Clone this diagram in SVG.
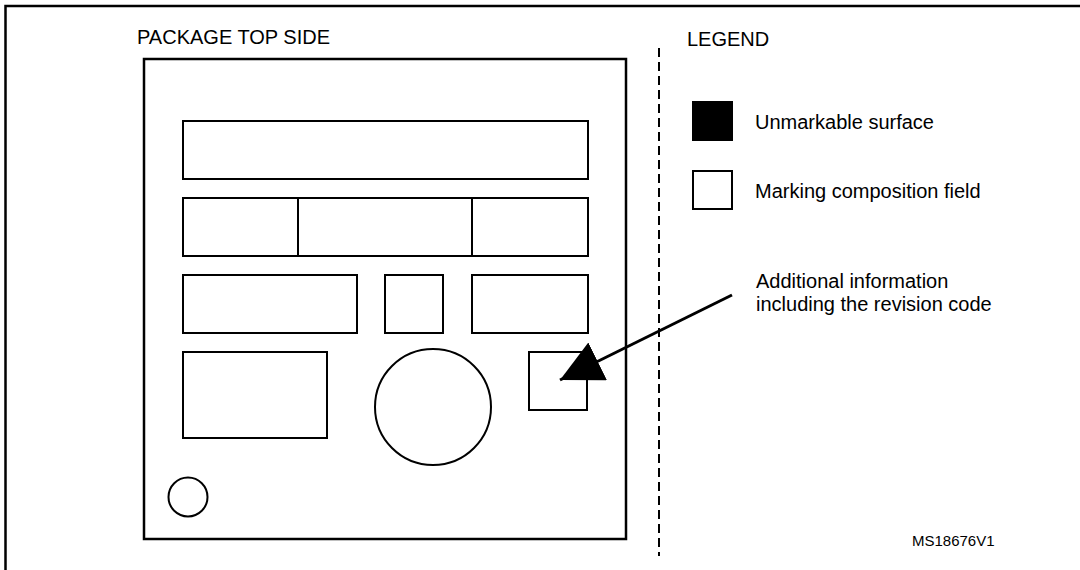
<svg xmlns="http://www.w3.org/2000/svg" width="1080" height="570" viewBox="0 0 1080 570">
<style>
.f{fill:none;stroke:#000;stroke-width:2}
.t{font-family:"Liberation Sans",Arial,sans-serif;font-size:20px;fill:#000}
</style>
<defs>
<marker id="ah" markerWidth="44" markerHeight="44" refX="42" refY="21" orient="auto" markerUnits="userSpaceOnUse">
<path d="M0,0 L42,21 L0,42 Z" fill="#000"/>
</marker>
</defs>
<rect width="1080" height="570" fill="#fff"/>
<g id="frame">
<path d="M5.5,570 V6 H1080" fill="none" stroke="#000" stroke-width="2.5"/>
</g>
<g id="package">
<text class="t" x="137" y="44">PACKAGE TOP SIDE</text>
<rect x="144" y="59" width="482" height="480" fill="none" stroke="#000" stroke-width="2.5"/>
<rect class="f" x="183" y="121" width="405" height="58"/>
<rect class="f" x="183" y="198" width="405" height="58"/>
<line class="f" x1="298" y1="198" x2="298" y2="256"/>
<line class="f" x1="472" y1="198" x2="472" y2="256"/>
<rect class="f" x="183" y="275" width="174" height="58"/>
<rect class="f" x="385" y="275" width="58" height="58"/>
<rect class="f" x="472" y="275" width="116" height="58"/>
<rect class="f" x="183" y="352" width="144" height="86"/>
<circle class="f" cx="433" cy="407" r="58"/>
<rect class="f" x="529" y="352" width="58" height="58"/>
<circle class="f" cx="188" cy="497" r="19.5"/>
</g>
<g id="divider">
<line x1="659" y1="48" x2="659" y2="556" stroke="#000" stroke-width="2" stroke-dasharray="9,5"/>
</g>
<g id="legend">
<text class="t" x="687" y="46">LEGEND</text>
<rect x="692" y="101" width="41" height="40" fill="#000"/>
<text class="t" x="755" y="129">Unmarkable surface</text>
<rect class="f" x="693" y="171" width="39" height="38"/>
<text class="t" x="755" y="198">Marking composition field</text>
<text class="t" x="756" y="288">Additional information</text>
<text class="t" x="756" y="311">including the revision code</text>
</g>
<g id="connectors">
<line x1="732" y1="295" x2="560" y2="380" stroke="#000" stroke-width="3" marker-end="url(#ah)"/>
</g>
<g id="code">
<text x="912" y="546" font-family="'Liberation Sans',Arial,sans-serif" font-size="15" fill="#000">MS18676V1</text>
</g>
</svg>
